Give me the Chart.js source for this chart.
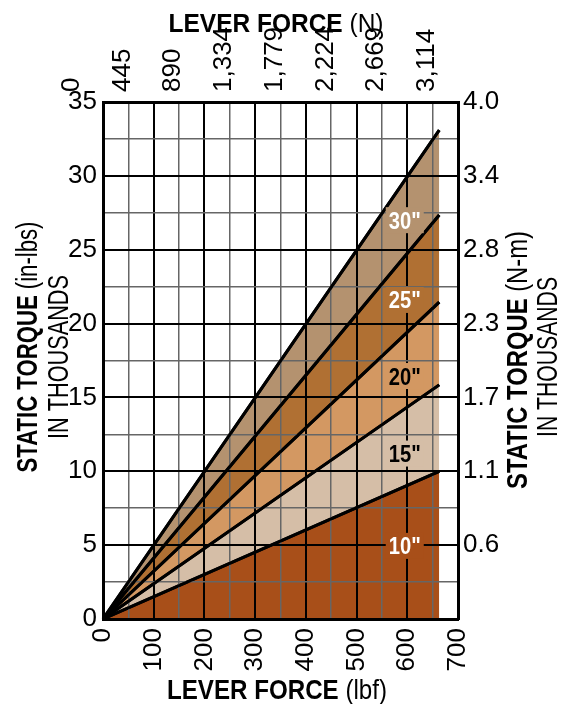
<!DOCTYPE html>
<html>
<head>
<meta charset="utf-8">
<script src="https://cdn.jsdelivr.net/npm/chart.js@4/dist/chart.umd.min.js"></script>
<style>
  html, body { margin: 0; padding: 0; background: #fff; }
  #wrap { width: 569px; height: 704px; position: relative; }
</style>
</head>
<body>
<div id="wrap"><canvas id="chart"></canvas></div>
<script>
// --- Data ---
const forceLbf = [0, 663];
const torque10 = [0, 10.0];
const torque15 = [0, 15.85];
const torque20 = [0, 21.45];
const torque25 = [0, 27.35];
const torque30 = [0, 33.1];
const leverLabels = ['10"', '15"', '20"', '25"', '30"'];
const xTickLabels = ['0', '100', '200', '300', '400', '500', '600', '700'];
const xTopTickLabels = ['0', '445', '890', '1,334', '1,779', '2,224', '2,669', '3,114'];
const yTickLabels = ['0', '5', '10', '15', '20', '25', '30', '35'];
const yRightTickLabels = ['', '0.6', '1.1', '1.7', '2.3', '2.8', '3.4', '4.0'];

// --- Styles ---
const NARROW = "'Liberation Sans Narrow', 'Arial Narrow', 'Liberation Sans', sans-serif";
const fillColors = ['#a84f19', '#d5bea7', '#d39862', '#b07033', '#b4926f'];
const labelColors = ['#fff', '#000', '#000', '#fff', '#fff'];
// where each lever label sits (lbf, thousand in-lbs)
const labelSpots = [[595, 4.95], [595, 11.2], [595, 16.45], [595, 21.6], [595, 27.0]];

const series = [torque10, torque15, torque20, torque25, torque30];

const gridColor = (c) => (c.tick && c.tick.value % 100 === 0) ? '#000' : '#666';
const gridColorY = (c) => (c.tick && c.tick.value % 5 === 0) ? '#000' : '#666';
const gridWidth = (c) => (c.tick && c.tick.value % 100 === 0) ? 2 : 1.5;
const gridWidthY = (c) => (c.tick && c.tick.value % 5 === 0) ? 2 : 1.5;

// draws mixed bold/regular text, squeezed to a given width
function drawParts(ctx, parts, cx, cy, angle, size, width) {
    ctx.save();
    ctx.translate(cx, cy);
    ctx.rotate(angle);
    let total = 0;
    parts.forEach(p => {
        ctx.font = (p.bold ? 'bold ' : '') + size + 'px ' + NARROW;
        p.w = ctx.measureText(p.t).width;
        total += p.w;
    });
    ctx.scale(width / total, 1);
    ctx.fillStyle = '#000';
    ctx.textBaseline = 'alphabetic';
    ctx.textAlign = 'left';
    let x = -total / 2;
    parts.forEach(p => {
        ctx.font = (p.bold ? 'bold ' : '') + size + 'px ' + NARROW;
        ctx.fillText(p.t, x, size * 0.36);
        x += p.w;
    });
    ctx.restore();
}

const overlay = {
    id: 'overlay',
    afterDraw(chart) {
        const ctx = chart.ctx;
        // lines back on top of the grid
        chart.getSortedVisibleDatasetMetas().forEach(m => m.dataset.draw(ctx, chart.chartArea));

        // lever length labels
        const xs = chart.scales.x, ys = chart.scales.y;
        labelSpots.forEach((s, i) => {
            const px = xs.getPixelForValue(s[0]);
            const py = ys.getPixelForValue(s[1]);
            ctx.fillStyle = fillColors[i];
            ctx.fillRect(px - 19, py - 13, 38, 26);
            ctx.save();
            ctx.translate(px, py);
            ctx.font = 'bold 24px ' + NARROW;
            const w = ctx.measureText(leverLabels[i]).width;
            ctx.scale(32 / w, 1);
            ctx.fillStyle = labelColors[i];
            ctx.textAlign = 'center';
            ctx.textBaseline = 'alphabetic';
            ctx.fillText(leverLabels[i], 0, 8.5);
            ctx.restore();
        });

        // axis titles
        drawParts(ctx, [{ t: 'LEVER FORCE', bold: true }, { t: ' (N)' }], 276, 23, 0, 26, 215);
        drawParts(ctx, [{ t: 'LEVER FORCE', bold: true }, { t: ' (lbf)' }], 277, 689, 0, 28, 220);
        drawParts(ctx, [{ t: 'STATIC TORQUE', bold: true }, { t: ' (in-lbs)' }], 26, 347, -Math.PI / 2, 30, 251);
        drawParts(ctx, [{ t: 'IN THOUSANDS' }], 57.5, 357, -Math.PI / 2, 30, 164);
        drawParts(ctx, [{ t: 'STATIC TORQUE', bold: true }, { t: ' (N-m)' }], 516.5, 360, -Math.PI / 2, 30, 258);
        drawParts(ctx, [{ t: 'IN THOUSANDS' }], 546, 357, -Math.PI / 2, 30, 160);
    }
};

const datasets = series.map((s, i) => ({
    label: leverLabels[i],
    data: forceLbf.map((f, j) => ({ x: f, y: s[j] })),
    borderColor: '#000',
    borderWidth: 3,
    backgroundColor: fillColors[i],
    fill: i === 0 ? 'origin' : '-1',
    pointRadius: 0,
    tension: 0
}));

const tickFont = { family: NARROW, size: 26 };

new Chart(document.getElementById('chart'), {
    type: 'line',
    data: { datasets },
    options: {
        responsive: true,
        maintainAspectRatio: false,
        animation: false,
        layout: { padding: 0 },
        plugins: { legend: { display: false }, tooltip: { enabled: false } },
        scales: {
            x: {
                type: 'linear', position: 'bottom', min: 0, max: 700,
                afterFit: s => { s.height = 85; },
                ticks: {
                    stepSize: 50, autoSkip: false, maxRotation: 90, minRotation: 90,
                    padding: 9, color: '#000', font: tickFont,
                    callback: v => v % 100 === 0 ? xTickLabels[v / 100] : ''
                },
                grid: { color: gridColor, lineWidth: gridWidth, drawTicks: false, z: 1 },
                border: { color: '#000', width: 3, z: 2 }
            },
            x2: {
                type: 'linear', position: 'top', min: 0, max: 700,
                afterFit: s => { s.height = 102; },
                ticks: {
                    stepSize: 100, autoSkip: false, maxRotation: 90, minRotation: 90,
                    padding: 10, color: '#000', font: tickFont,
                    callback: v => xTopTickLabels[v / 100]
                },
                grid: { display: false, drawTicks: false },
                border: { color: '#000', width: 3, z: 2 }
            },
            y: {
                type: 'linear', position: 'left', min: 0, max: 35,
                afterFit: s => { s.width = 103; },
                ticks: {
                    stepSize: 2.5, autoSkip: false, padding: 6, color: '#000', font: tickFont,
                    callback: v => v % 5 === 0 ? yTickLabels[v / 5] : ''
                },
                grid: { color: gridColorY, lineWidth: gridWidthY, drawTicks: false, z: 1 },
                border: { color: '#000', width: 3, z: 2 }
            },
            y2: {
                type: 'linear', position: 'right', min: 0, max: 35,
                afterFit: s => { s.width = 111; },
                ticks: {
                    stepSize: 5, autoSkip: false, padding: 5, color: '#000', font: tickFont,
                    callback: v => yRightTickLabels[v / 5]
                },
                grid: { display: false, drawTicks: false },
                border: { color: '#000', width: 3, z: 2 }
            }
        }
    },
    plugins: [overlay]
});
</script>
</body>
</html>
